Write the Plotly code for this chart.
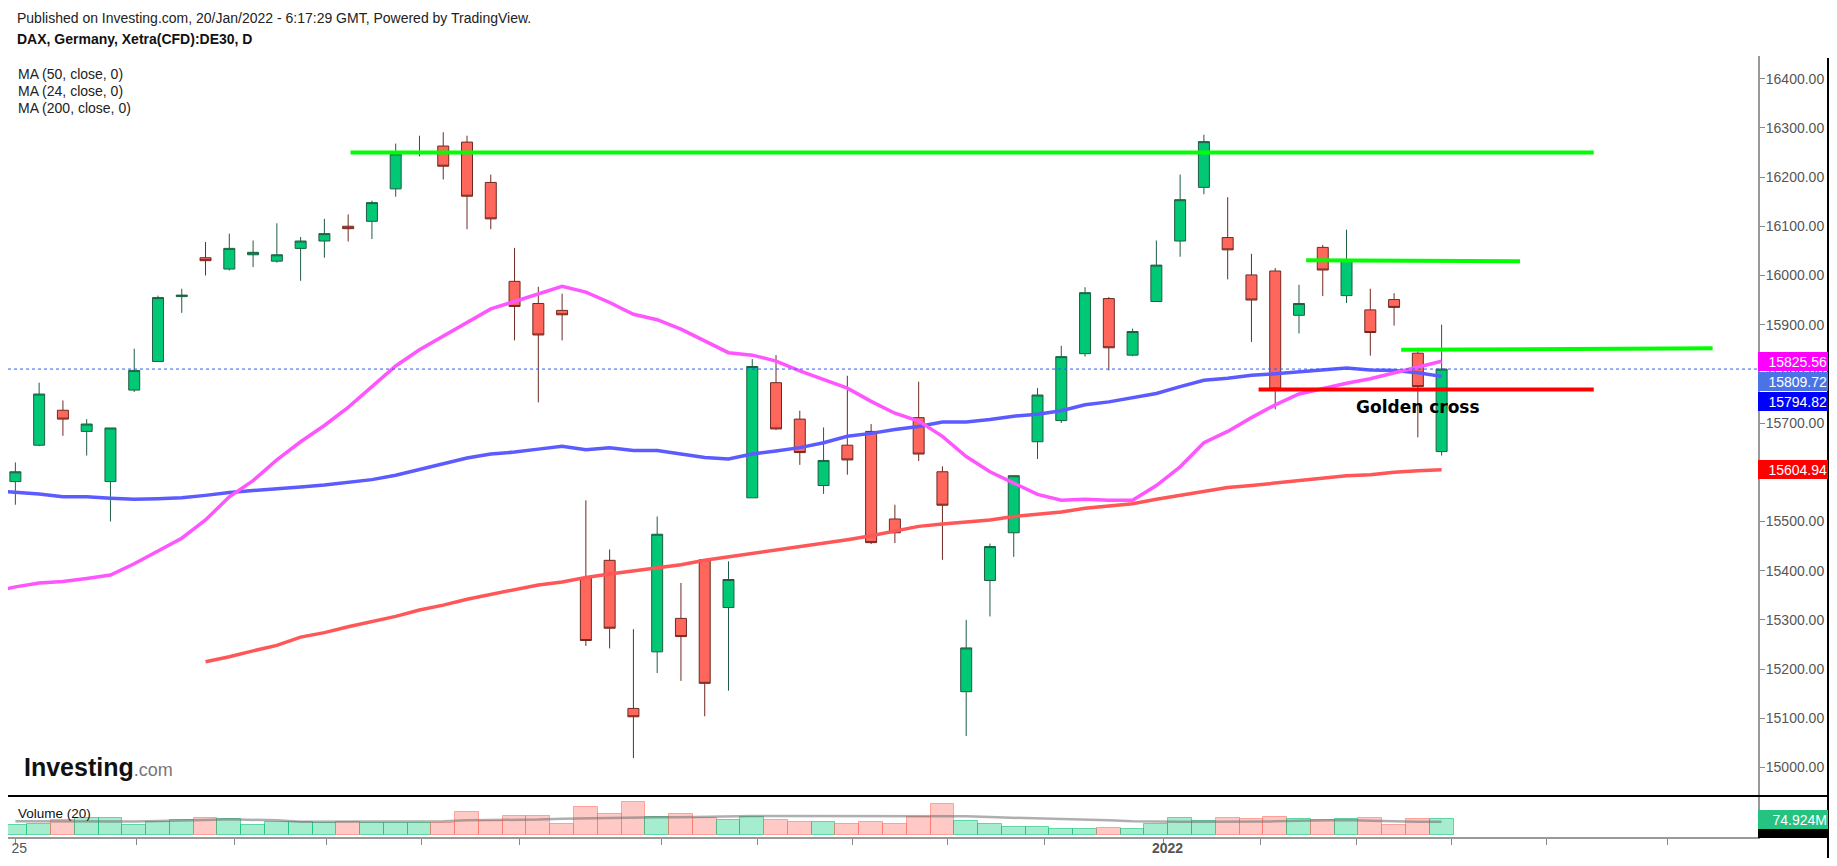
import plotly.graph_objects as go

# page body has an 8px margin, so the figure is sized to fit inside the window
OFF = 8
W, H = 1837 - 2 * OFF, 866 - 2 * OFF


def px(x):
    return (x - OFF) / W


def py(y):
    return 1 - (y - OFF) / H


# daily candles, 25 Oct 2021 .. 19 Jan 2022 (index = trading day)
day = list(range(61))
opens = [15581, 15655, 15726, 15683, 15581, 15767, 15825, 15957, 16036, 16013,
         16042, 16029, 16055, 16070, 16100, 16110, 16176, 16249, 16263, 16271,
         16189, 15988, 15943, 15929, 15386, 15421, 15120, 15235, 15303, 15422,
         15325, 15548, 15782, 15708, 15573, 15655, 15683, 15505, 15711, 15601,
         15154, 15380, 15477, 15662, 15705, 15841, 15953, 15838, 15947, 16070,
         16179, 16077, 16001, 16009, 15919, 16057, 15959, 15930, 15951, 15842,
         15642]
highs = [15620, 15782, 15746, 15708, 15690, 15851, 15959, 15973, 16068, 16085,
         16071, 16106, 16078, 16115, 16124, 16152, 16268, 16284, 16291, 16284,
         16205, 16056, 15977, 15963, 15543, 15443, 15281, 15510, 15375, 15422,
         15419, 15830, 15838, 15725, 15691, 15796, 15698, 15534, 15784, 15612,
         15300, 15455, 15593, 15771, 15857, 15976, 15956, 15892, 16071, 16205,
         16286, 16159, 16044, 16015, 15981, 16062, 16093, 15973, 15964, 15846,
         15900]
lows = [15534, 15653, 15674, 15634, 15500, 15763, 15825, 15924, 16000, 16010,
        16017, 16026, 15989, 16036, 16069, 16074, 16160, 16242, 16195, 16094,
        16094, 15868, 15742, 15868, 15247, 15242, 15019, 15192, 15176, 15104,
        15156, 15548, 15686, 15615, 15556, 15595, 15454, 15456, 15623, 15422,
        15064, 15307, 15428, 15627, 15700, 15835, 15807, 15836, 15947, 16038,
        16165, 15992, 15865, 15728, 15882, 15958, 15944, 15837, 15898, 15671,
        15634]
closes = [15601, 15759, 15708, 15698, 15690, 15807, 15955, 15960, 16030, 16055,
          16047, 16042, 16070, 16085, 16095, 16148, 16247, 16251, 16222, 16161,
          16115, 15937, 15879, 15920, 15258, 15283, 15103, 15474, 15266, 15171,
          15382, 15815, 15688, 15640, 15624, 15625, 15457, 15477, 15637, 15533,
          15243, 15449, 15593, 15757, 15835, 15965, 15853, 15886, 16021, 16154,
          16272, 16052, 15950, 15769, 15943, 16011, 16032, 15884, 15935, 15774,
          15809.72]

# volume in millions and its 20-day average
volume_m = [46, 54.5, 73, 80, 80, 47.7, 59.6, 71.5, 80, 78,
            47.7, 59.6, 59.6, 56, 59.6, 58, 58, 58, 58, 110.7,
            66.4, 92, 92, 54.5, 138, 100.5, 161.8, 85, 100.5, 83.4,
            71.5, 85, 73, 59.6, 59.6, 54.5, 59.6, 54.5, 88.6, 151.6,
            66.4, 54.5, 39, 39, 29, 29, 34, 29, 52.8, 80,
            66.4, 80, 75, 85, 75, 71.5, 75, 80, 47.7, 75,
            74.924]
vol_ma20 = [66, 65, 64, 63, 63, 64, 67, 68, 72, 75,
            74, 70, 63, 63, 63, 63, 63, 63, 65, 70,
            71, 71, 74, 78, 80, 83, 85, 85, 85, 88,
            91, 92, 92, 92, 92, 92, 92, 92, 92, 92,
            90, 86, 83, 80, 77, 75, 70, 65, 63, 63,
            63, 63, 63, 65, 68, 70, 72, 68, 64, 63,
            63]

# moving averages, from one day before the first visible candle
ma_day = list(range(-1, 61))
ma50 = [15563, 15560, 15556, 15550, 15550, 15547, 15545, 15546, 15548, 15553,
        15559, 15563, 15566, 15570, 15574, 15580, 15585, 15594, 15606, 15618,
        15629, 15637, 15641, 15647, 15653, 15646, 15650, 15644, 15644, 15637,
        15630, 15627, 15637, 15643, 15650, 15660, 15673, 15679, 15687, 15693,
        15702, 15702, 15707, 15714, 15718, 15725, 15737, 15743, 15751, 15760,
        15774, 15787, 15791, 15797, 15800, 15804, 15807, 15812, 15808, 15807,
        15802, 15794.82]
ma24 = [15357, 15367, 15375, 15378, 15384, 15391, 15414, 15440, 15466, 15503,
        15550, 15583, 15625, 15662, 15695, 15732, 15774, 15816, 15849, 15877,
        15905, 15932, 15947, 15963, 15978, 15966, 15945, 15921, 15910, 15891,
        15866, 15843, 15838, 15826, 15806, 15788, 15771, 15744, 15720, 15704,
        15673, 15632, 15601, 15578, 15555, 15543, 15545, 15543, 15543, 15573,
        15611, 15660, 15683, 15711, 15737, 15759, 15770, 15781, 15790, 15802,
        15813, 15825.56]
ma200 = [None] * 9 + [
        15215, 15225, 15237, 15248, 15265, 15274, 15286, 15297, 15307, 15320,
        15330, 15342, 15352, 15361, 15371, 15377, 15386, 15393, 15399, 15406,
        15412, 15421, 15428, 15434, 15442, 15449, 15456, 15463, 15471, 15480,
        15490, 15495, 15499, 15503, 15510, 15514, 15519, 15527, 15531, 15536,
        15545, 15553, 15561, 15569, 15573, 15578, 15583, 15587, 15593, 15595,
        15600, 15603, 15604.94]

# hand drawn levels: start day, end day, start price, end price
lvl_x0 = [14.1, 54.3, 58.3, 52.3]
lvl_x1 = [66.4, 63.3, 71.4, 66.4]
lvl_y0 = [16250, 16031, 15849, 15768]
lvl_y1 = [16250, 16029, 15852, 15768]
lvl_col = ["#00ff00", "#00ff00", "#00ff00", "#ff0000"]

price_ticks = list(range(15000, 16401, 100))
date_ticks = [0, 5.1, 9.2, 13.1, 17.1, 21.2, 27.2, 31.2, 35.2, 39.2, 43.3,
              48.3, 52.4, 56.4, 60.4, 64.4, 69.5]
date_labels = ["25", "", "", "", "", "", "", "", "", "", "",
               "<b>2022</b>", "", "", "", "", ""]

FONT = "Liberation Sans, Arial, sans-serif"

fig = go.Figure()

# volume panel
up = [c >= o for o, c in zip(opens, closes)]
fig.add_trace(go.Bar(
    x=day, y=volume_m, xaxis="x", yaxis="y2",
    marker=dict(color=["rgba(0,200,117,0.35)" if u else "rgba(255,103,92,0.35)" for u in up],
                line=dict(color=["rgba(0,190,110,0.55)" if u else "rgba(255,103,92,0.55)" for u in up],
                          width=1)),
    hoverinfo="skip"))
fig.add_trace(go.Scatter(x=day, y=vol_ma20, xaxis="x", yaxis="y2", mode="lines",
                         line=dict(color="rgba(110,110,110,0.55)", width=2.5), hoverinfo="skip"))

# moving averages
fig.add_trace(go.Scatter(x=ma_day, y=ma200, mode="lines", line=dict(color="#ff5757", width=3.5)))
fig.add_trace(go.Scatter(x=ma_day, y=ma50, mode="lines", line=dict(color="#5b5bff", width=3.5)))
fig.add_trace(go.Scatter(x=ma_day, y=ma24, mode="lines", line=dict(color="#ff55ff", width=3.5)))

# candles
fig.add_trace(go.Candlestick(
    x=day, open=opens, high=highs, low=lows, close=closes,
    increasing=dict(fillcolor="#00c875", line=dict(color="#1f5e42", width=1)),
    decreasing=dict(fillcolor="#ff675c", line=dict(color="#6e2a22", width=1)),
    whiskerwidth=0, hoverinfo="skip"))

# drawn levels
for x0, x1, y0, y1, c in zip(lvl_x0, lvl_x1, lvl_y0, lvl_y1, lvl_col):
    fig.add_trace(go.Scatter(x=[x0, x1], y=[y0, y1], mode="lines",
                             line=dict(color=c, width=4), hoverinfo="skip"))

# last price dotted line
fig.add_shape(type="line", xref="x domain", x0=0, x1=1, yref="y",
              y0=closes[-1], y1=closes[-1], line=dict(color="#2f5cff", width=1, dash="dot"))

# frame: separator, right border, black stub under volume label
fig.add_shape(type="line", xref="paper", yref="paper", x0=px(8), x1=px(1829),
              y0=py(796), y1=py(796), line=dict(color="black", width=2))
fig.add_shape(type="line", xref="paper", yref="paper", x0=px(1828), x1=px(1828),
              y0=py(58), y1=py(866), line=dict(color="black", width=2))
fig.add_shape(type="rect", xref="paper", yref="paper", x0=px(1758), x1=px(1828),
              y0=py(838), y1=py(829), fillcolor="black", line=dict(width=0))


def scale_label(y, text, bg, yref="y", yshift=0):
    fig.add_annotation(xref="x domain", x=1, yref=yref, y=y, text=text, showarrow=False,
                       xanchor="left", yanchor="middle", width=68, height=17, borderpad=1,
                       borderwidth=0, align="right", bgcolor=bg, yshift=yshift,
                       font=dict(family=FONT, size=14, color="white"))


scale_label(ma24[-1], f"{ma24[-1]:.2f}", "#ff00ff")
scale_label(closes[-1], f"{closes[-1]:.2f}", "#4a74e6", yshift=-12.5)
scale_label(ma50[-1], f"{ma50[-1]:.2f}", "#0000ff", yshift=-25)
scale_label(ma200[-1], f"{ma200[-1]:.2f}", "#ff0000")
scale_label(volume_m[-1], f"{volume_m[-1]:.3f}M", "#26c281", yref="y2")


# texts
def note(x, y, text, size=14, color="#222", family=FONT):
    fig.add_annotation(xref="paper", yref="paper", x=px(x), y=py(y), text=text,
                       showarrow=False, xanchor="left", yanchor="middle",
                       font=dict(family=family, size=size, color=color))


note(15, 18, "Published on Investing.com, 20/Jan/2022 - 6:17:29 GMT, Powered by TradingView.")
note(15, 39, "<b>DAX, Germany, Xetra(CFD):DE30, D</b>", color="#111")
note(16, 74, "MA (50, close, 0)")
note(16, 91, "MA (24, close, 0)")
note(16, 108, "MA (200, close, 0)")
note(16, 813, "Volume (20)", size=13.5, color="#111")
note(22, 767, "<b>Investing</b><span style='font-size:18px;color:#777'>.com</span>",
     size=25, color="#111")

fig.add_annotation(x=59, y=15732, text="<b>Golden cross</b>", showarrow=False,
                   font=dict(family="DejaVu Sans, Verdana, sans-serif", size=17, color="black"))

fig.update_layout(
    width=W, height=H, template="none",
    paper_bgcolor="white", plot_bgcolor="white",
    margin=dict(l=0, r=0, t=0, b=0),
    showlegend=False, bargap=0, boxgap=0.34,
    font=dict(family=FONT, size=14, color="#555"),
    xaxis=dict(domain=[px(8), px(1758)], range=[-0.31, 73.31], anchor="y2",
               rangeslider=dict(visible=False), showgrid=False, zeroline=False,
               showline=True, linecolor="#999", linewidth=2,
               tickmode="array", tickvals=date_ticks, ticktext=date_labels,
               ticks="outside", ticklen=6, tickcolor="#888",
               ticklabelstandoff=-9, ticklabelshift=4,
               tickfont=dict(family=FONT, size=14, color="#555")),
    yaxis=dict(domain=[py(796), py(56)], range=[14942, 16446], anchor="x",
               side="right", showgrid=False, zeroline=False,
               showline=True, linecolor="#999", linewidth=2,
               tickmode="array", tickvals=price_ticks,
               ticktext=[f"{v:.2f}" for v in price_ticks],
               ticks="outside", ticklen=5, tickcolor="#888", ticklabelstandoff=-2,
               tickfont=dict(family=FONT, size=14, color="#555")),
    yaxis2=dict(domain=[py(837), py(796)], range=[-12, 190], anchor="x",
                side="right", showgrid=False, zeroline=False, showticklabels=False,
                showline=True, linecolor="#999", linewidth=2, ticks=""),
)

fig.write_html("out.html")
